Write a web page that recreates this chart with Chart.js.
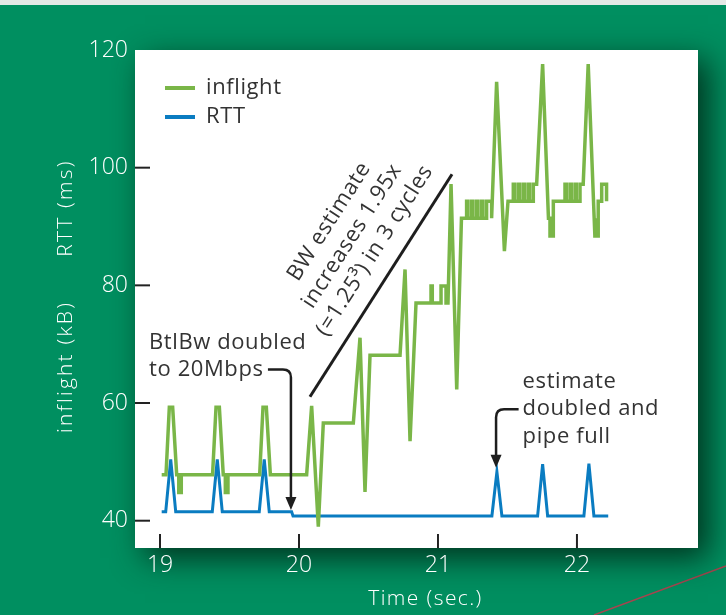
<!DOCTYPE html>
<html><head><meta charset="utf-8">
<script src="https://cdn.jsdelivr.net/npm/chart.js@4/dist/chart.umd.min.js"></script>
<style>html,body{margin:0;padding:0;background:#008f60;}canvas{display:block}</style>
</head><body>
<canvas id="c" width="726" height="615"></canvas>
<script>
// ---- data ----
const seriesNames = ['inflight', 'RTT'];
const xTickValues = [19, 20, 21, 22];
const yTickValues = [40, 60, 80, 100, 120];
const xTitle = 'Time (sec.)';
const yTitles = ['inflight (kB)', 'RTT (ms)'];

const inflightTime = [
  19.012,19.043,19.067,19.091,19.120,19.135,19.135,19.153,19.153,
  19.378,19.403,19.427,19.455,19.470,19.470,19.489,19.489,
  19.717,19.741,19.765,19.794,
  20.055,20.091,20.139,20.175,20.391,20.439,20.475,20.511,20.727,20.763,20.799,20.842,
  20.950,20.950,20.959,20.959,21.022,21.022,21.058,21.058,21.072,
  21.094,21.135,21.169,
  21.206,21.206,21.215,21.215,21.242,21.242,21.251,21.251,21.278,21.278,21.287,21.287,21.314,21.314,21.323,21.323,
  21.350,21.350,21.386,21.386,
  21.422,21.478,21.504,
  21.542,21.542,21.551,21.551,21.578,21.578,21.587,21.587,21.614,21.614,21.623,21.623,21.650,21.650,21.659,21.659,
  21.686,21.686,21.710,
  21.753,21.795,21.806,21.806,21.830,21.830,
  21.914,21.914,21.923,21.923,21.950,21.950,21.959,21.959,21.986,21.986,21.995,21.995,
  22.022,22.022,22.045,
  22.081,22.124,22.129,22.129,22.153,22.153,22.178,22.178,22.213,22.213
];
const inflightKB = [
  47.8,47.8,59.3,59.3,47.8,47.8,44.8,44.8,47.8,
  47.8,59.3,59.3,47.8,47.8,44.8,44.8,47.8,
  47.8,59.3,59.3,47.8,
  47.8,59.5,39.0,56.6,56.6,71.1,44.9,68.1,68.1,82.7,53.5,77.0,
  77.0,79.9,79.9,77.0,77.0,79.9,79.9,77.0,77.0,
  97.2,62.3,91.4,
  91.4,94.3,94.3,91.4,91.4,94.3,94.3,91.4,91.4,94.3,94.3,91.4,91.4,94.3,94.3,91.4,
  91.4,94.3,94.3,91.4,
  114.6,85.8,94.3,
  94.3,97.2,97.2,94.3,94.3,97.2,97.2,94.3,94.3,97.2,97.2,94.3,94.3,97.2,97.2,94.3,
  94.3,97.2,97.2,
  117.6,91.4,91.4,88.4,88.4,94.3,
  94.3,97.2,97.2,94.3,94.3,97.2,97.2,94.3,94.3,97.2,97.2,94.3,
  94.3,97.2,97.2,
  117.6,91.4,91.4,88.4,88.4,94.3,94.3,97.2,97.2,94.3
];
const rttTime = [
  19.012,19.041,19.077,19.113,19.376,19.412,19.448,19.714,19.750,19.786,
  19.947,19.957,21.388,21.424,21.460,21.717,21.753,21.789,22.050,22.086,22.122,22.225
];
const rttMs = [
  41.5,41.5,50.4,41.5,41.5,50.4,41.5,41.5,50.4,41.5,
  41.5,40.8,40.8,48.3,40.8,40.8,49.6,40.8,40.8,49.7,40.8,40.8
];

// ---- styling ----
const BG = '#008f60';
const GREEN = '#7ab648';
const BLUE = '#0a7cc1';
const INK = '#333333';
const FONT = "'Open Sans', 'Noto Sans', sans-serif";

const pts = (xs, ys) => xs.map((x, i) => ({x, y: ys[i]}));

const deco = {
  id: 'deco',
  beforeDraw(chart) {
    const {ctx, chartArea: ca, width, height} = chart;
    ctx.save();
    ctx.fillStyle = BG; ctx.fillRect(0, 0, width, height);
    ctx.fillStyle = '#e3e8e5'; ctx.fillRect(0, 0, width, 5);
    ctx.strokeStyle = '#a8444f'; ctx.lineWidth = 1.5;
    ctx.beginPath(); ctx.moveTo(594, 615); ctx.lineTo(726, 566); ctx.stroke();
    ctx.shadowColor = 'rgba(0,40,22,0.9)'; ctx.shadowBlur = 30;
    ctx.shadowOffsetX = 10; ctx.shadowOffsetY = 10;
    ctx.fillStyle = '#ffffff';
    ctx.fillRect(ca.left, ca.top, ca.right - ca.left, ca.bottom - ca.top);
    ctx.restore();
  },
  afterDraw(chart) {
    const {ctx, chartArea: ca, scales} = chart;
    const xs = scales.x, ys = scales.y;
    const P = (t, v) => ({x: xs.getPixelForValue(t), y: ys.getPixelForValue(v)});
    ctx.save();
    // inward tick marks
    ctx.strokeStyle = '#222'; ctx.lineWidth = 2;
    ys.ticks.forEach(tk => {
      const y = ys.getPixelForValue(tk.value);
      if (y <= ca.top + 1) return;
      ctx.beginPath(); ctx.moveTo(ca.left, y); ctx.lineTo(ca.left + 15, y); ctx.stroke();
    });
    xs.ticks.forEach(tk => {
      const x = xs.getPixelForValue(tk.value);
      ctx.beginPath(); ctx.moveTo(x, ca.bottom); ctx.lineTo(x, ca.bottom - 14); ctx.stroke();
    });

    // axis titles (white, spaced)
    ctx.fillStyle = '#ffffff';
    ctx.font = `300 21px ${FONT}`;
    ctx.textAlign = 'center'; ctx.textBaseline = 'middle';
    ctx.letterSpacing = '1.4px';
    ctx.fillText(xTitle, (ca.left + ca.right) / 2 + 9, 599);
    ctx.letterSpacing = '2.2px';
    ctx.save(); ctx.translate(66, 367); ctx.rotate(-Math.PI / 2); ctx.fillText(yTitles[0], 0, 0); ctx.restore();
    ctx.save(); ctx.translate(66, 208); ctx.rotate(-Math.PI / 2); ctx.fillText(yTitles[1], 0, 0); ctx.restore();
    ctx.letterSpacing = '0.6px';

    // legend
    ctx.font = `22px ${FONT}`;
    ctx.textBaseline = 'middle'; ctx.textAlign = 'left';
    chart.data.datasets.forEach((ds, i) => {
      const y = ca.top + 38 + i * 29;
      ctx.strokeStyle = ds.borderColor; ctx.lineWidth = 4;
      ctx.beginPath(); ctx.moveTo(ca.left + 30, y); ctx.lineTo(ca.left + 60, y); ctx.stroke();
      ctx.fillStyle = INK; ctx.fillText(ds.label, ca.left + 71, y);
    });

    // slanted annotation
    const A = P(20.079, 61.07), B = P(21.101, 98.89);
    ctx.strokeStyle = '#1e1e1e'; ctx.lineWidth = 3;
    ctx.beginPath(); ctx.moveTo(A.x, A.y); ctx.lineTo(B.x, B.y); ctx.stroke();
    const L = Math.hypot(B.x - A.x, B.y - A.y);
    const u = {x: (B.x - A.x) / L, y: (B.y - A.y) / L};
    const n = {x: u.y, y: -u.x};
    const ang = Math.atan2(B.y - A.y, B.x - A.x);
    const slantLines = ['BW estimate', 'increases 1.95x', '(=1.25\u00B3) in 3 cycles'];
    const offs = [78, 51, 24];
    ctx.fillStyle = INK; ctx.font = `22px ${FONT}`;
    ctx.textAlign = 'center'; ctx.textBaseline = 'middle';
    slantLines.forEach((s, i) => {
      const cx = A.x + 158 * u.x + offs[i] * n.x;
      const cy = A.y + 158 * u.y + offs[i] * n.y;
      ctx.save(); ctx.translate(cx, cy); ctx.rotate(ang); ctx.fillText(s, 0, 0); ctx.restore();
    });

    // left annotation
    const t1 = P(18.921, 70.27);
    ctx.textAlign = 'left';
    ctx.fillText('BtlBw doubled', t1.x, t1.y);
    ctx.fillText('to 20Mbps', t1.x, t1.y + 27);
    const a1 = P(19.942, 41.8);
    const hy = t1.y + 27;
    ctx.strokeStyle = '#1e1e1e'; ctx.lineWidth = 2.5;
    ctx.beginPath();
    ctx.moveTo(a1.x - 23, hy); ctx.lineTo(a1.x - 8, hy);
    ctx.quadraticCurveTo(a1.x, hy, a1.x, hy + 8);
    ctx.lineTo(a1.x, a1.y - 10); ctx.stroke();
    ctx.fillStyle = '#1e1e1e';
    ctx.beginPath(); ctx.moveTo(a1.x - 5.5, a1.y - 13); ctx.lineTo(a1.x + 5.5, a1.y - 13); ctx.lineTo(a1.x, a1.y); ctx.closePath(); ctx.fill();

    // right annotation
    const t2 = P(21.609, 63.68);
    ctx.fillStyle = INK;
    ctx.fillText('estimate', t2.x, t2.y);
    ctx.fillText('doubled and', t2.x, t2.y + 27.5);
    ctx.fillText('pipe full', t2.x, t2.y + 55);
    const a2 = P(21.418, 49.0);
    const hy2 = t2.y + 28;
    ctx.strokeStyle = '#1e1e1e';
    ctx.beginPath();
    ctx.moveTo(t2.x - 4, hy2); ctx.lineTo(a2.x + 8, hy2);
    ctx.quadraticCurveTo(a2.x, hy2, a2.x, hy2 + 8);
    ctx.lineTo(a2.x, a2.y - 10); ctx.stroke();
    ctx.fillStyle = '#1e1e1e';
    ctx.beginPath(); ctx.moveTo(a2.x - 5.5, a2.y - 13); ctx.lineTo(a2.x + 5.5, a2.y - 13); ctx.lineTo(a2.x, a2.y); ctx.closePath(); ctx.fill();
    ctx.restore();
  }
};

new Chart(document.getElementById('c'), {
  type: 'scatter',
  data: {
    datasets: [
      {label: seriesNames[0], data: pts(inflightTime, inflightKB), showLine: true,
       borderColor: GREEN, backgroundColor: GREEN, borderWidth: 3.5, pointRadius: 0,
       tension: 0, borderJoinStyle: 'miter'},
      {label: seriesNames[1], data: pts(rttTime, rttMs), showLine: true,
       borderColor: BLUE, backgroundColor: BLUE, borderWidth: 3, pointRadius: 0,
       tension: 0, borderJoinStyle: 'miter'}
    ]
  },
  options: {
    responsive: false, animation: false, devicePixelRatio: 1,
    layout: {padding: {left: 0, top: 50, right: 28, bottom: 0}},
    plugins: {legend: {display: false}, tooltip: {enabled: false}},
    scales: {
      x: {
        type: 'linear', min: 18.82, max: 22.871,
        afterBuildTicks: s => { s.ticks = xTickValues.map(v => ({value: v})); },
        afterFit: s => { s.height = 67; },
        grid: {display: false, drawTicks: false}, border: {display: false},
        ticks: {color: '#fff', padding: 4, maxRotation: 0, autoSkip: false,
                font: {family: FONT, size: 23, weight: '300'}, callback: v => String(v)},
        title: {display: false}
      },
      y: {
        type: 'linear', min: 35.36, max: 120,
        afterBuildTicks: s => { s.ticks = yTickValues.map(v => ({value: v})); },
        afterFit: s => { s.width = 135; },
        grid: {display: false, drawTicks: false}, border: {display: false},
        ticks: {color: '#fff', padding: 7, autoSkip: false,
                font: {family: FONT, size: 23, weight: '300'}, callback: v => String(v)},
        title: {display: false}
      }
    }
  },
  plugins: [deco]
});
</script>
</body></html>
